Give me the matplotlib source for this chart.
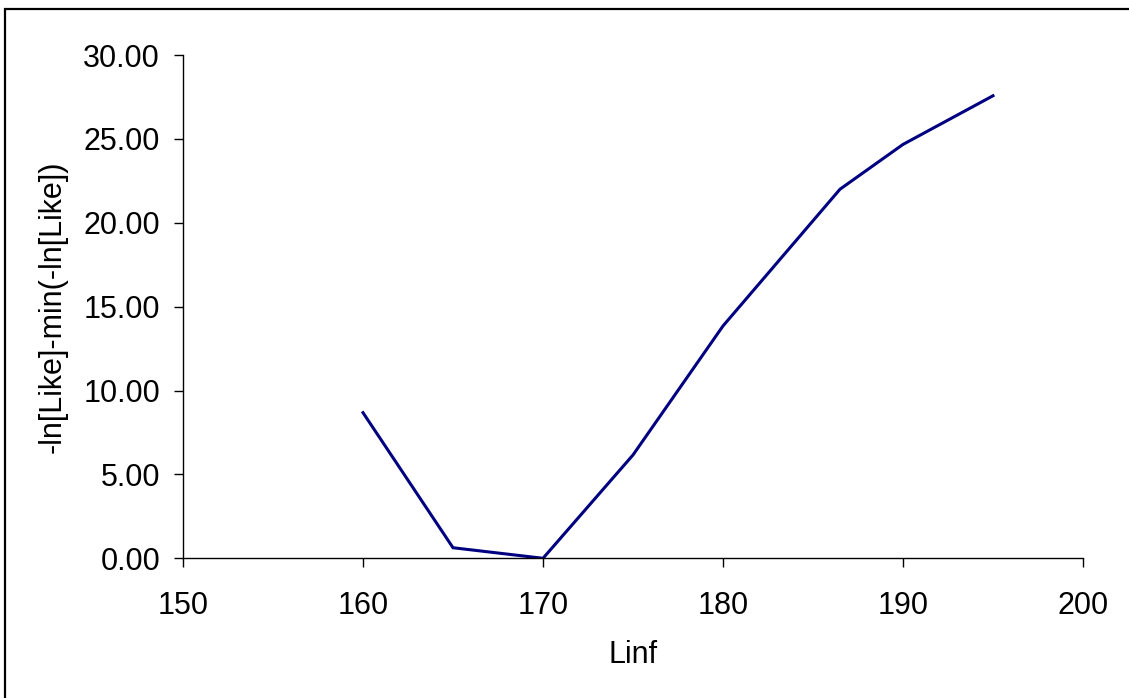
import matplotlib
matplotlib.use("Agg")
import matplotlib.pyplot as plt
from matplotlib.patches import Rectangle

# profile likelihood over Linf
linf = [160, 165, 170, 175, 180, 186.5, 190, 195]
nll = [8.68, 0.63, 0.0, 6.16, 13.85, 22.0, 24.67, 27.57]

x_ticks = [150, 160, 170, 180, 190, 200]
y_ticks = [0, 5, 10, 15, 20, 25, 30]

plt.rcParams['font.family'] = ['Liberation Sans', 'DejaVu Sans']

fig = plt.figure(figsize=(11.29, 6.98), dpi=100)
W, H = 1129, 698
ax = fig.add_axes([183 / W, 1 - 558.3 / H, 900 / W, 503.3 / H])

# outer frame (only top and left edges are visible in the original)
fig.patches.append(Rectangle((5 / W, -0.1), 1.2, 1 - 9 / H + 0.1,
                             transform=fig.transFigure, fill=False,
                             edgecolor='black', linewidth=1.6))

ax.plot(linf, nll, color='#000080', linewidth=2.2, solid_joinstyle='miter')

ax.set_xlim(150, 200)
ax.set_ylim(0, 30)
ax.set_xticks(x_ticks)
ax.set_yticks(y_ticks)
ax.set_yticklabels(['%.2f' % v for v in y_ticks])

for side in ['top', 'right']:
    ax.spines[side].set_visible(False)
for side in ['left', 'bottom']:
    ax.spines[side].set_linewidth(1.0)
    ax.spines[side].set_color('black')

ax.tick_params(axis='both', direction='out', length=6.5, width=1.0,
               labelsize=22, colors='black')
ax.tick_params(axis='y', pad=10)
ax.tick_params(axis='x', pad=17)

ax.set_xlabel('Linf', fontsize=22, va='center')
ax.set_ylabel('-ln[Like]-min(-ln[Like])', fontsize=22, va='center')
ax.xaxis.set_label_coords(0.5, -(655 - 558.3) / 503.3)
ax.yaxis.set_label_coords((53 - 183) / 900, 0.5)

fig.savefig('out.png', dpi=100)
